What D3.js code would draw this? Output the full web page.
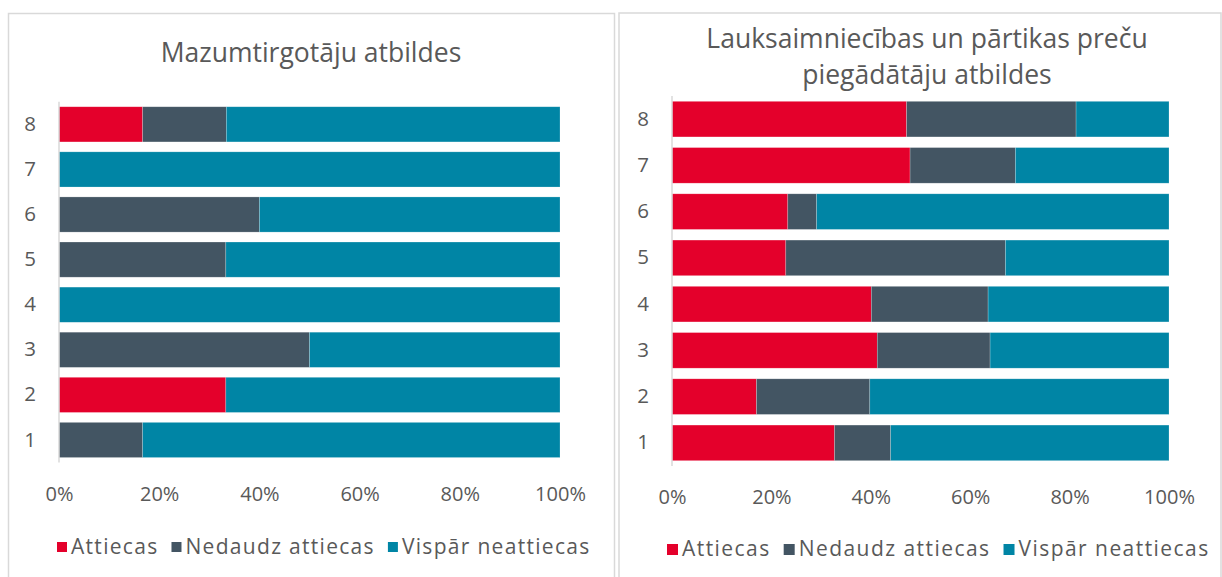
<!DOCTYPE html>
<html>
<head>
<meta charset="utf-8">
<script src="https://cdn.jsdelivr.net/npm/d3@7"></script>
<style>
  html, body { margin: 0; padding: 0; background: #fff; }
  svg { display: block; }
  text { font-family: "Open Sans", sans-serif; fill: #595959; }
</style>
</head>
<body>
<svg id="chart" width="1222" height="577"></svg>
<script>
// ---- Data ----
const categories = ["1", "2", "3", "4", "5", "6", "7", "8"];
const seriesNames = ["Attiecas", "Nedaudz attiecas", "Vispār neattiecas"];
const seriesColors = ["#E4002B", "#435563", "#0085A5"];
const xTicks = [0, 20, 40, 60, 80, 100];

const titleLeft = ["Mazumtirgotāju atbildes"];
const attiecasLeft = [0, 33.3, 0, 0, 0, 0, 0, 16.7];
const nedaudzLeft  = [16.7, 0, 50, 0, 33.3, 40, 0, 16.7];
const visparLeft   = [83.3, 66.7, 50, 100, 66.7, 60, 100, 66.6];

const titleRight = ["Lauksaimniecības un pārtikas preču", "piegādātāju atbildes"];
const attiecasRight = [32.7, 17.0, 41.3, 40.1, 22.9, 23.3, 47.9, 47.2];
const nedaudzRight  = [11.3, 22.8, 22.7, 23.5, 44.2, 5.8, 21.2, 34.1];
const visparRight   = [56.0, 60.2, 36.0, 36.4, 32.9, 70.9, 30.9, 18.7];

// ---- Drawing ----
const svg = d3.select("#chart");

function buildRows(a, b, c) {
  return categories.map((cat, i) => ({
    cat: cat,
    [seriesNames[0]]: a[i],
    [seriesNames[1]]: b[i],
    [seriesNames[2]]: c[i]
  }));
}

function drawPanel(cfg) {
  const g = svg.append("g");

  // panel frame
  g.append("rect")
    .attr("x", cfg.frame[0]).attr("y", cfg.frame[1])
    .attr("width", cfg.frame[2]).attr("height", cfg.frame[3])
    .attr("fill", "#fff").attr("stroke", "#d9d9d9").attr("stroke-width", 1.5);

  // title
  const title = g.append("text")
    .attr("x", cfg.titleX)
    .attr("text-anchor", "middle")
    .style("font-size", "26.5px");
  cfg.title.forEach((line, i) => {
    title.append("tspan")
      .attr("x", cfg.titleX)
      .attr("y", cfg.titleY[i])
      .text(line);
  });

  const rows = buildRows(cfg.a, cfg.b, cfg.c);
  const stacked = d3.stack().keys(seriesNames)(rows);

  const x = d3.scaleLinear().domain([0, 100]).range(cfg.xRange);
  const y = d3.scaleBand()
    .domain(categories.slice().reverse())
    .range(cfg.yRange)
    .paddingInner(cfg.pad)
    .paddingOuter(cfg.pad / 2);

  // bars
  g.selectAll("g.series")
    .data(stacked)
    .join("g")
    .attr("class", "series")
    .attr("fill", (d, i) => seriesColors[i])
    .selectAll("rect")
    .data(d => d)
    .join("rect")
    .attr("x", d => x(d[0]))
    .attr("y", d => y(d.data.cat))
    .attr("width", d => Math.max(0, x(d[1]) - x(d[0])))
    .attr("height", y.bandwidth())
    .attr("stroke", "#ffffff")
    .attr("stroke-opacity", 0.35)
    .attr("stroke-width", 0.6);

  // category axis (left)
  const yAxis = g.append("g")
    .attr("transform", `translate(${cfg.xRange[0]},0)`)
    .call(d3.axisLeft(y).tickSize(0).tickPadding(23));
  yAxis.select(".domain")
    .attr("stroke", "#d9d9d9").attr("stroke-width", 1.5)
    .attr("d", `M0,${cfg.yRange[0]}V${cfg.yRange[1]}`);
  yAxis.selectAll("text")
    .style("font-size", "20.5px")
    .style("font-family", "Open Sans, sans-serif")
    .attr("fill", "#595959");

  // value axis (labels only)
  const xAxis = g.append("g")
    .attr("transform", `translate(0,${cfg.tickY})`)
    .call(d3.axisBottom(x).tickValues(xTicks).tickFormat(d => d + "%").tickSize(0).tickPadding(0));
  xAxis.select(".domain").remove();
  xAxis.selectAll("text")
    .attr("dy", "0.35em")
    .attr("y", 0)
    .style("font-size", "20px")
    .style("font-family", "Open Sans, sans-serif")
    .attr("fill", "#595959");

  // legend
  const leg = g.append("g").attr("transform", `translate(${cfg.legendX},${cfg.legendY})`);
  let cx = 0;
  seriesNames.forEach((name, i) => {
    leg.append("rect")
      .attr("x", cx).attr("y", -5)
      .attr("width", cfg.sq).attr("height", cfg.sq)
      .attr("fill", seriesColors[i]);
    const t = leg.append("text")
      .attr("x", cx + cfg.sq + 4).attr("y", 0)
      .attr("dy", "0.35em")
      .style("font-size", cfg.legendFont)
      .style("letter-spacing", cfg.legendSpacing)
      .text(name);
    cx += cfg.sq + 4 + t.node().getComputedTextLength() + 13;
  });
}

drawPanel({
  frame: [8.5, 13.5, 606, 600],
  title: titleLeft, titleX: 311, titleY: [62],
  a: attiecasLeft, b: nedaudzLeft, c: visparLeft,
  xRange: [59, 560], yRange: [101.8, 462.5], pad: 0.22,
  tickY: 494, legendX: 57, legendY: 547,
  sq: 10, legendFont: "21px", legendSpacing: "1.3px"
});

drawPanel({
  frame: [619, 13, 602, 600],
  title: titleRight, titleX: 927, titleY: [48, 84],
  a: attiecasRight, b: nedaudzRight, c: visparRight,
  xRange: [672, 1169], yRange: [96, 466], pad: 0.23,
  tickY: 497, legendX: 667, legendY: 549,
  sq: 11, legendFont: "21px", legendSpacing: "1.45px"
});
</script>
</body>
</html>
